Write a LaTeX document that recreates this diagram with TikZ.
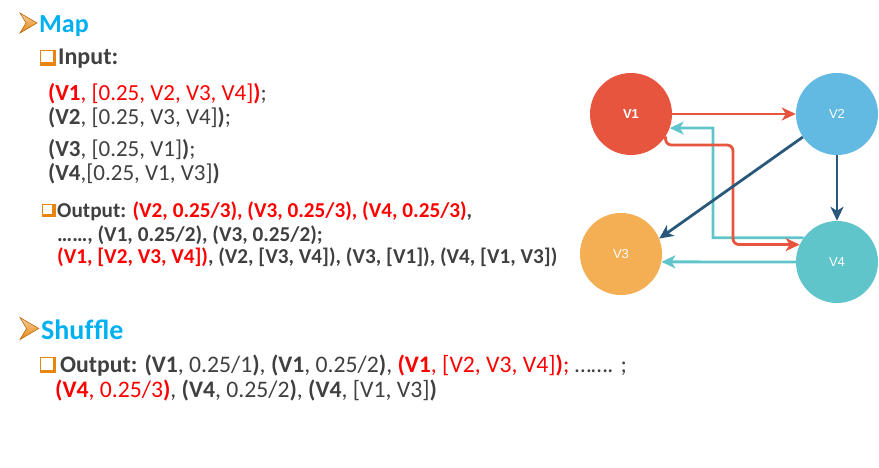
\documentclass[tikz,border=0pt]{standalone}
\usepackage{fontspec}
\setmainfont{Carlito}
\newfontfamily\arialfont{Liberation Sans}
\usetikzlibrary{arrows.meta}
\definecolor{txtgray}{HTML}{404040}
\definecolor{headblue}{HTML}{00B0F0}
\definecolor{bulorange}{HTML}{E8850F}
\definecolor{vred}{HTML}{E8553E}
\definecolor{vblue}{HTML}{62B9E1}
\definecolor{vorange}{HTML}{F4AF55}
\definecolor{vteal}{HTML}{5FC5CB}
\definecolor{vdark}{HTML}{2A587A}
\newcommand{\tup}[2]{\textbf{(#1}#2\textbf{)}}
\newcommand{\rd}[1]{{\color{red}#1}}
% bullets: arrow head at (x,y) = its back corner, square box at (x,y) = top left
\newcommand{\arrowbul}[3]{
    \draw[bulorange!80!black, line width=0.6pt, top color=bulorange!40, bottom color=bulorange, line join=miter]
    (#1,#2-#3) -- (#1+1.7*#3,#2) -- (#1,#2+#3) -- (#1+0.6*#3,#2) -- cycle;
}
\newcommand{\boxbul}[3]{
    \fill[bulorange] (#1,#2) rectangle (#1+#3,#2+#3);
    \fill[white] (#1+1.3,#2+1.3) rectangle (#1+#3-3.5,#2+#3-3.5);
}

\begin{document}
\begin{tikzpicture}[x=1pt, y=-1pt]
    \tikzset{
        txt/.style={anchor=base west, inner sep=0pt, text=txtgray},
        head/.style={txt, text=headblue, font=\fontsize{26}{30}\selectfont\bfseries},
        vertex/.style={circle, minimum size=82pt, inner sep=0pt, text=white, font=\arialfont\fontsize{13}{15}\selectfont},
        link/.style={line width=2.8pt, -{Stealth[length=14pt, width=13pt, inset=4pt]}}
    }
    \useasboundingbox (0,0) rectangle (879,468);

    \arrowbul{20}{23}{10}
    \node[head] (map) at (39,33) {Map};
    \boxbul{40}{50}{16}
    \node[txt, font=\fontsize{24}{28}\selectfont\bfseries] (input) at (58,65) {Input:};

    \begin{scope}[font=\fontsize{23}{27}\selectfont]
    \node[txt] (in1) at (48,101) {\rd{\tup{V1}{, [0.25, V2, V3, V4]}};};
    \node[txt] (in2) at (48,125) {\tup{V2}{, [0.25, V3, V4]};};
    \node[txt] (in3) at (48,157) {\tup{V3}{, [0.25, V1]};};
    \node[txt] (in4) at (48,181) {\tup{V4}{,[0.25, V1, V3]}};
    \end{scope}

    \boxbul{42}{204}{13.5}
    \begin{scope}[font=\fontsize{21.2}{25}\selectfont\bfseries]
    \node[txt] (out1) at (57,218) {Output: \rd{(V2, 0.25/3), (V3, 0.25/3), (V4, 0.25/3)},};
    \node[txt] (out2) at (57,241) {……, (V1, 0.25/2), (V3, 0.25/2);};
    \node[txt] (out3) at (57,263) {\rd{(V1, [V2, V3, V4])}, (V2, [V3, V4]), (V3, [V1]), (V4, [V1, V3])};
    \end{scope}

    \arrowbul{20}{328.5}{11}
    \node[head, font=\fontsize{28}{32}\selectfont\bfseries] (shuffle) at (41,339) {Shuf\kern0.4pt fle};
    \boxbul{40}{357}{16}
    \begin{scope}[font=\fontsize{23.7}{28}\selectfont]
    \node[txt] (sh1) at (60,372) {\textbf{Output:} \tup{V1}{, 0.25/1}, \tup{V1}{, 0.25/2}, \rd{\tup{V1}{, [V2, V3, V4]};} ……. ;};
    \node[txt] (sh2) at (55,397) {\rd{\tup{V4}{, 0.25/3}}, \tup{V4}{, 0.25/2}, \tup{V4}{, [V1, V3]}};
    \end{scope}

    \node[vertex, fill=vred, font=\arialfont\fontsize{13}{15}\selectfont\bfseries] (v1) at (631,114) {V1};
    \node[vertex, fill=vblue] (v2) at (837,114) {V2};
    \node[vertex, fill=vorange] (v3) at (621,254) {V3};
    \node[vertex, fill=vteal] (v4) at (837,262) {V4};
    \coordinate (upbend) at (713,128);
    \coordinate (downbend) at (733,145);

    \draw[link, vred] (v1.east) -- (v2.west);
    \draw[link, vteal] (v4.144) -| (upbend) -- (v1.-20);
    \draw[link, vred, rounded corners=6pt] (v1.-33) |- (downbend) |- (v4.155);
    \draw[link, vdark] (v2.214) -- (v3.22);
    \draw[link, vdark] (v2.south) -- (v4.north);
    \draw[link, vteal] (v4.west) -- (v3.-11);
\end{tikzpicture}
\end{document}
